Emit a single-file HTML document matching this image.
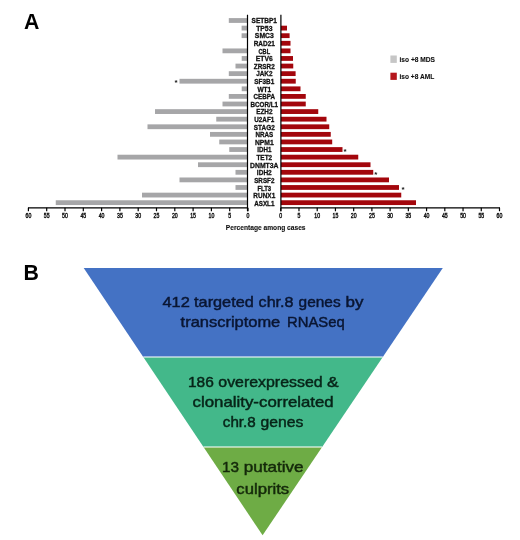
<!DOCTYPE html>
<html><head><meta charset="utf-8"><title>Figure</title>
<style>
html,body{margin:0;padding:0;background:#fff;}
body{width:520px;height:540px;overflow:hidden;}
svg{display:block;}
text{font-family:"Liberation Sans",sans-serif;}
.g{font-weight:bold;font-size:7.4px;text-anchor:middle;fill:#111;stroke:#111;stroke-width:0.3px;}
.t{font-size:6.5px;text-anchor:middle;fill:#111;stroke:#111;stroke-width:0.4px;}
.l{font-weight:bold;font-size:7.3px;fill:#111;stroke:#111;stroke-width:0.12px;}
.f{font-size:14.4px;text-anchor:start;stroke-width:0.45px;}
.p{font-weight:bold;font-size:21.3px;fill:#000;}
</style></head><body>
<svg width="520" height="540" viewBox="0 0 520 540">
<rect width="520" height="540" fill="#fff"/>
<text class="p" x="24.0" y="29.1">A</text>
<text class="p" x="23.5" y="279.6">B</text>
<rect x="228.80" y="18.10" width="18.70" height="4.8" fill="#A6A6A8"/>
<rect x="241.60" y="25.69" width="5.90" height="4.8" fill="#A6A6A8"/>
<rect x="280.90" y="25.69" width="6.10" height="4.8" fill="#A3060C"/>
<rect x="241.60" y="33.28" width="5.90" height="4.8" fill="#A6A6A8"/>
<rect x="280.90" y="33.28" width="8.70" height="4.8" fill="#A3060C"/>
<rect x="280.90" y="40.87" width="9.60" height="4.8" fill="#A3060C"/>
<rect x="222.50" y="48.46" width="25.00" height="4.8" fill="#A6A6A8"/>
<rect x="280.90" y="48.46" width="9.60" height="4.8" fill="#A3060C"/>
<rect x="241.70" y="56.05" width="5.80" height="4.8" fill="#A6A6A8"/>
<rect x="280.90" y="56.05" width="12.10" height="4.8" fill="#A3060C"/>
<rect x="235.50" y="63.64" width="12.00" height="4.8" fill="#A6A6A8"/>
<rect x="280.90" y="63.64" width="12.35" height="4.8" fill="#A3060C"/>
<rect x="228.80" y="71.23" width="18.70" height="4.8" fill="#A6A6A8"/>
<rect x="280.90" y="71.23" width="14.70" height="4.8" fill="#A3060C"/>
<rect x="179.50" y="78.82" width="68.00" height="4.8" fill="#A6A6A8"/>
<rect x="280.90" y="78.82" width="14.85" height="4.8" fill="#A3060C"/>
<rect x="241.70" y="86.41" width="5.80" height="4.8" fill="#A6A6A8"/>
<rect x="280.90" y="86.41" width="19.60" height="4.8" fill="#A3060C"/>
<rect x="228.80" y="94.00" width="18.70" height="4.8" fill="#A6A6A8"/>
<rect x="280.90" y="94.00" width="24.85" height="4.8" fill="#A3060C"/>
<rect x="222.50" y="101.59" width="25.00" height="4.8" fill="#A6A6A8"/>
<rect x="280.90" y="101.59" width="24.85" height="4.8" fill="#A3060C"/>
<rect x="155.00" y="109.18" width="92.50" height="4.8" fill="#A6A6A8"/>
<rect x="280.90" y="109.18" width="37.35" height="4.8" fill="#A3060C"/>
<rect x="216.25" y="116.77" width="31.25" height="4.8" fill="#A6A6A8"/>
<rect x="280.90" y="116.77" width="45.60" height="4.8" fill="#A3060C"/>
<rect x="147.50" y="124.36" width="100.00" height="4.8" fill="#A6A6A8"/>
<rect x="280.90" y="124.36" width="48.35" height="4.8" fill="#A3060C"/>
<rect x="210.00" y="131.95" width="37.50" height="4.8" fill="#A6A6A8"/>
<rect x="280.90" y="131.95" width="49.85" height="4.8" fill="#A3060C"/>
<rect x="219.25" y="139.54" width="28.25" height="4.8" fill="#A6A6A8"/>
<rect x="280.90" y="139.54" width="51.30" height="4.8" fill="#A3060C"/>
<rect x="229.25" y="147.13" width="18.25" height="4.8" fill="#A6A6A8"/>
<rect x="280.90" y="147.13" width="61.60" height="4.8" fill="#A3060C"/>
<rect x="117.50" y="154.72" width="130.00" height="4.8" fill="#A6A6A8"/>
<rect x="280.90" y="154.72" width="77.35" height="4.8" fill="#A3060C"/>
<rect x="198.00" y="162.31" width="49.50" height="4.8" fill="#A6A6A8"/>
<rect x="280.90" y="162.31" width="89.60" height="4.8" fill="#A3060C"/>
<rect x="235.50" y="169.90" width="12.00" height="4.8" fill="#A6A6A8"/>
<rect x="280.90" y="169.90" width="92.35" height="4.8" fill="#A3060C"/>
<rect x="179.50" y="177.49" width="68.00" height="4.8" fill="#A6A6A8"/>
<rect x="280.90" y="177.49" width="108.10" height="4.8" fill="#A3060C"/>
<rect x="235.50" y="185.08" width="12.00" height="4.8" fill="#A6A6A8"/>
<rect x="280.90" y="185.08" width="118.10" height="4.8" fill="#A3060C"/>
<rect x="142.00" y="192.67" width="105.50" height="4.8" fill="#A6A6A8"/>
<rect x="280.90" y="192.67" width="120.35" height="4.8" fill="#A3060C"/>
<rect x="55.75" y="200.26" width="191.75" height="4.8" fill="#A6A6A8"/>
<rect x="280.90" y="200.26" width="135.10" height="4.8" fill="#A3060C"/>
<text class="g" x="264.3" y="23.10" textLength="25.4" lengthAdjust="spacingAndGlyphs">SETBP1</text>
<text class="g" x="264.3" y="30.71" textLength="16.3" lengthAdjust="spacingAndGlyphs">TP53</text>
<text class="g" x="264.3" y="38.32" textLength="18.9" lengthAdjust="spacingAndGlyphs">SMC3</text>
<text class="g" x="264.3" y="45.93" textLength="21.2" lengthAdjust="spacingAndGlyphs">RAD21</text>
<text class="g" x="264.3" y="53.54" textLength="11.6" lengthAdjust="spacingAndGlyphs">CBL</text>
<text class="g" x="264.3" y="61.15" textLength="16.9" lengthAdjust="spacingAndGlyphs">ETV6</text>
<text class="g" x="264.3" y="68.76" textLength="20.9" lengthAdjust="spacingAndGlyphs">ZRSR2</text>
<text class="g" x="264.3" y="76.37" textLength="16.3" lengthAdjust="spacingAndGlyphs">JAK2</text>
<text class="g" x="264.3" y="83.98" textLength="19.9" lengthAdjust="spacingAndGlyphs">SF3B1</text>
<text class="g" x="264.3" y="91.59" textLength="13.85" lengthAdjust="spacingAndGlyphs">WT1</text>
<text class="g" x="264.3" y="99.20" textLength="21.4" lengthAdjust="spacingAndGlyphs">CEBPA</text>
<text class="g" x="264.3" y="106.81" textLength="27.5" lengthAdjust="spacingAndGlyphs">BCOR/L1</text>
<text class="g" x="264.3" y="114.42" textLength="16.3" lengthAdjust="spacingAndGlyphs">EZH2</text>
<text class="g" x="264.3" y="122.03" textLength="20.0" lengthAdjust="spacingAndGlyphs">U2AF1</text>
<text class="g" x="264.3" y="129.64" textLength="20.9" lengthAdjust="spacingAndGlyphs">STAG2</text>
<text class="g" x="264.3" y="137.25" textLength="17.8" lengthAdjust="spacingAndGlyphs">NRAS</text>
<text class="g" x="264.3" y="144.86" textLength="18.75" lengthAdjust="spacingAndGlyphs">NPM1</text>
<text class="g" x="264.3" y="152.47" textLength="14.1" lengthAdjust="spacingAndGlyphs">IDH1</text>
<text class="g" x="264.3" y="160.08" textLength="15.8" lengthAdjust="spacingAndGlyphs">TET2</text>
<text class="g" x="264.3" y="167.69" textLength="28.4" lengthAdjust="spacingAndGlyphs">DNMT3A</text>
<text class="g" x="264.3" y="175.30" textLength="14.9" lengthAdjust="spacingAndGlyphs">IDH2</text>
<text class="g" x="264.3" y="182.91" textLength="20.2" lengthAdjust="spacingAndGlyphs">SRSF2</text>
<text class="g" x="264.3" y="190.52" textLength="13.7" lengthAdjust="spacingAndGlyphs">FLT3</text>
<text class="g" x="264.3" y="198.13" textLength="21.9" lengthAdjust="spacingAndGlyphs">RUNX1</text>
<text class="g" x="264.3" y="205.74" textLength="20.2" lengthAdjust="spacingAndGlyphs">ASXL1</text>
<path d="M247.5 14.8V211.2 M280.9 14.8V211.2 M28 207.8H248.1 M280.29999999999995 207.8H500" stroke="#000" stroke-width="1.2" fill="none"/>
<path d="M248.00 207.8V211.2 M280.75 207.8V211.2 M229.70 207.8V211.2 M298.98 207.8V211.2 M211.40 207.8V211.2 M317.21 207.8V211.2 M193.10 207.8V211.2 M335.44 207.8V211.2 M174.80 207.8V211.2 M353.67 207.8V211.2 M156.50 207.8V211.2 M371.89 207.8V211.2 M138.20 207.8V211.2 M390.12 207.8V211.2 M119.90 207.8V211.2 M408.35 207.8V211.2 M101.60 207.8V211.2 M426.58 207.8V211.2 M83.30 207.8V211.2 M444.81 207.8V211.2 M65.00 207.8V211.2 M463.04 207.8V211.2 M46.70 207.8V211.2 M481.27 207.8V211.2 M28.40 207.8V211.2 M499.50 207.8V211.2" stroke="#000" stroke-width="1.2" fill="none"/>
<text class="t" transform="translate(248.00 218.3) scale(0.8 1)">0</text><text class="t" transform="translate(280.75 218.3) scale(0.8 1)">0</text>
<text class="t" transform="translate(229.70 218.3) scale(0.8 1)">5</text><text class="t" transform="translate(298.98 218.3) scale(0.8 1)">5</text>
<text class="t" transform="translate(211.40 218.3) scale(0.8 1)">10</text><text class="t" transform="translate(317.21 218.3) scale(0.8 1)">10</text>
<text class="t" transform="translate(193.10 218.3) scale(0.8 1)">15</text><text class="t" transform="translate(335.44 218.3) scale(0.8 1)">15</text>
<text class="t" transform="translate(174.80 218.3) scale(0.8 1)">20</text><text class="t" transform="translate(353.67 218.3) scale(0.8 1)">20</text>
<text class="t" transform="translate(156.50 218.3) scale(0.8 1)">25</text><text class="t" transform="translate(371.89 218.3) scale(0.8 1)">25</text>
<text class="t" transform="translate(138.20 218.3) scale(0.8 1)">30</text><text class="t" transform="translate(390.12 218.3) scale(0.8 1)">30</text>
<text class="t" transform="translate(119.90 218.3) scale(0.8 1)">35</text><text class="t" transform="translate(408.35 218.3) scale(0.8 1)">35</text>
<text class="t" transform="translate(101.60 218.3) scale(0.8 1)">40</text><text class="t" transform="translate(426.58 218.3) scale(0.8 1)">40</text>
<text class="t" transform="translate(83.30 218.3) scale(0.8 1)">45</text><text class="t" transform="translate(444.81 218.3) scale(0.8 1)">45</text>
<text class="t" transform="translate(65.00 218.3) scale(0.8 1)">50</text><text class="t" transform="translate(463.04 218.3) scale(0.8 1)">50</text>
<text class="t" transform="translate(46.70 218.3) scale(0.8 1)">55</text><text class="t" transform="translate(481.27 218.3) scale(0.8 1)">55</text>
<text class="t" transform="translate(28.40 218.3) scale(0.8 1)">60</text><text class="t" transform="translate(499.50 218.3) scale(0.8 1)">60</text>
<text class="l" style="text-anchor:middle;font-weight:bold" x="265.7" y="229.7" textLength="79.7" lengthAdjust="spacingAndGlyphs">Percentage among cases</text>
<text x="176" y="84.8" style="font-size:8px;font-weight:bold;text-anchor:middle;fill:#111">*</text>
<text x="345" y="153.55" style="font-size:8px;font-weight:bold;text-anchor:middle;fill:#111">*</text>
<text x="375.75" y="176.55" style="font-size:8px;font-weight:bold;text-anchor:middle;fill:#111">*</text>
<text x="403" y="191.8" style="font-size:8px;font-weight:bold;text-anchor:middle;fill:#111">*</text>
<rect x="390.4" y="55.5" width="6.4" height="7.4" fill="#C6C6C6"/>
<rect x="390.4" y="72.7" width="6.4" height="7.2" fill="#B5161C"/>
<text class="l" x="399.5" y="62" textLength="35.5" lengthAdjust="spacingAndGlyphs">iso +8 MDS</text>
<text class="l" x="399.5" y="78.8" textLength="34.7" lengthAdjust="spacingAndGlyphs">iso +8 AML</text>
<polygon points="83.7,268.0 442.8,268.0 382.80,357.0 143.27,357.0" fill="#4472C4"/>
<polygon points="143.27,357.0 382.80,357.0 322.13,447.0 203.50,447.0" fill="#43B88A"/>
<polygon points="203.50,447.0 322.13,447.0 262.6,535.3" fill="#6EAC45"/>
<path d="M143.27 357.0H382.80 M203.50 447.0H322.13" stroke="#fff" stroke-opacity="0.7" stroke-width="1.3"/>
<text class="f" y="307" fill="#0A1633" stroke="#0A1633"><tspan x="162.40" textLength="27.40" lengthAdjust="spacingAndGlyphs">412</tspan> <tspan x="194.10" textLength="59.70" lengthAdjust="spacingAndGlyphs">targeted</tspan> <tspan x="258.60" textLength="34.95" lengthAdjust="spacingAndGlyphs">chr.8</tspan> <tspan x="298.60" textLength="42.10" lengthAdjust="spacingAndGlyphs">genes</tspan> <tspan x="345.60" textLength="17.90" lengthAdjust="spacingAndGlyphs">by</tspan></text>
<text class="f" y="327" fill="#0A1633" stroke="#0A1633"><tspan x="180.60" textLength="99.70" lengthAdjust="spacingAndGlyphs">transcriptome</tspan> <tspan x="287.10" textLength="57.60" lengthAdjust="spacingAndGlyphs">RNASeq</tspan></text>
<text class="f" y="387" fill="#072418" stroke="#072418"><tspan x="188.00" textLength="25.80" lengthAdjust="spacingAndGlyphs">186</tspan> <tspan x="218.30" textLength="104.30" lengthAdjust="spacingAndGlyphs">overexpressed</tspan> <tspan x="327.10" textLength="11.60" lengthAdjust="spacingAndGlyphs">&amp;</tspan></text>
<text class="f" y="407" fill="#072418" stroke="#072418"><tspan x="192.50" textLength="66.50" lengthAdjust="spacingAndGlyphs">clonality-</tspan><tspan x="259.10" textLength="74.60" lengthAdjust="spacingAndGlyphs">correlated</tspan></text>
<text class="f" y="426.5" fill="#072418" stroke="#072418"><tspan x="222.80" textLength="32.90" lengthAdjust="spacingAndGlyphs">chr.8</tspan> <tspan x="260.60" textLength="42.80" lengthAdjust="spacingAndGlyphs">genes</tspan></text>
<text class="f" y="472.2" fill="#14290A" stroke="#14290A"><tspan x="222.10" textLength="17.00" lengthAdjust="spacingAndGlyphs">13</tspan> <tspan x="243.70" textLength="59.90" lengthAdjust="spacingAndGlyphs">putative</tspan></text>
<text class="f" y="493.5" fill="#14290A" stroke="#14290A"><tspan x="236.30" textLength="52.90" lengthAdjust="spacingAndGlyphs">culprits</tspan></text>
</svg></body></html>
